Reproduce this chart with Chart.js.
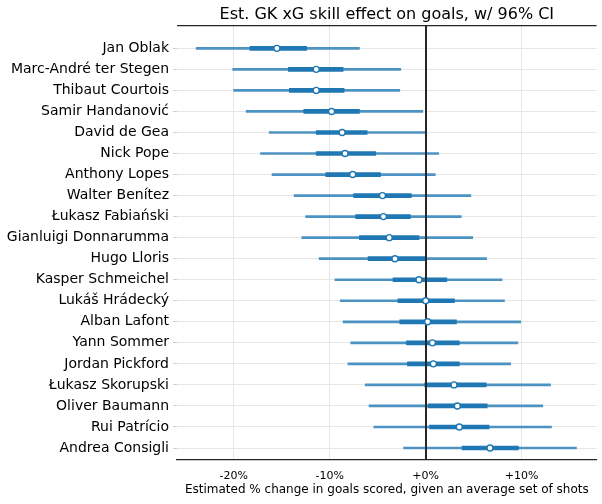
<!DOCTYPE html>
<html>
<head>
<meta charset="utf-8">
<script src="https://cdn.jsdelivr.net/npm/chart.js@4.4.0/dist/chart.umd.min.js"></script>
<style>
  body { margin: 0; background: #fff; }
  #wrap { width: 602px; height: 504px; }
</style>
</head>
<body>
<div id="wrap"><canvas id="gkChart" width="602" height="504"></canvas></div>
<script>
// goalkeepers, top to bottom
const keepers = [
  'Jan Oblak', 'Marc-André ter Stegen', 'Thibaut Courtois', 'Samir Handanović',
  'David de Gea', 'Nick Pope', 'Anthony Lopes', 'Walter Benítez',
  'Łukasz Fabiański', 'Gianluigi Donnarumma', 'Hugo Lloris', 'Kasper Schmeichel',
  'Lukáš Hrádecký', 'Alban Lafont', 'Yann Sommer', 'Jordan Pickford',
  'Łukasz Skorupski', 'Oliver Baumann', 'Rui Patrício', 'Andrea Consigli'
];
// % effect estimates
const estimate = [-15.5, -11.4, -11.4, -9.8, -8.7, -8.4, -7.6, -4.5, -4.4, -3.8,
                  -3.2, -0.7, 0.0, 0.2, 0.7, 0.8, 2.95, 3.3, 3.5, 6.7];
// 96% interval (thin line)
const ciLow = [-23.9, -20.1, -20.0, -18.7, -16.3, -17.2, -16.0, -13.7, -12.5, -12.9,
               -11.1, -9.45, -8.9, -8.6, -7.8, -8.1, -6.3, -5.9, -5.4, -2.3];
const ciHigh = [-6.9, -2.6, -2.7, -0.3, 0.0, 1.35, 1.0, 4.7, 3.7, 4.9,
                6.35, 7.95, 8.2, 9.9, 9.6, 8.85, 13.0, 12.2, 13.1, 15.7];
// inner interval (thick line)
const innerLow = [-18.3, -14.3, -14.2, -12.7, -11.4, -11.4, -10.4, -7.5, -7.3, -6.9,
                  -6.0, -3.4, -2.9, -2.7, -2.0, -1.9, -0.1, 0.24, 0.4, 3.8];
const innerHigh = [-12.4, -8.6, -8.5, -6.9, -6.1, -5.2, -4.7, -1.5, -1.6, -0.7,
                   -0.1, 2.2, 3.0, 3.2, 3.5, 3.5, 6.3, 6.4, 6.6, 9.65];
const xTicks = [-20, -10, 0, 10];

const FONT = "'DejaVu Sans', sans-serif";

// top spine + zero line (zero line goes under the points, over the bars)
const extraLines = {
  id: 'extraLines',
  beforeDatasetDraw(chart, args) {
    if (args.index !== 2) return;
    const { ctx, chartArea, scales } = chart;
    const x0 = Math.round(scales.x.getPixelForValue(0));
    ctx.save();
    ctx.strokeStyle = '#262626';
    ctx.lineWidth = 2;
    ctx.beginPath();
    ctx.moveTo(x0, chartArea.top);
    ctx.lineTo(x0, chartArea.bottom);
    ctx.stroke();
    ctx.restore();
  },
  afterDraw(chart) {
    const { ctx, chartArea } = chart;
    ctx.save();
    ctx.strokeStyle = '#262626';
    ctx.lineWidth = 1.2;
    ctx.beginPath();
    ctx.moveTo(chartArea.left, chartArea.top + 0.5);
    ctx.lineTo(chartArea.right, chartArea.top + 0.5);
    ctx.stroke();
    ctx.restore();
  }
};

const ctx = document.getElementById('gkChart').getContext('2d');
new Chart(ctx, {
  type: 'bar',
  data: {
    datasets: [
      {
        label: '96% CI',
        data: keepers.map((k, i) => ({ x: [ciLow[i], ciHigh[i]], y: i })),
        backgroundColor: '#4c92c3',
        barThickness: 2,
        grouped: false,
        order: 3,
      },
      {
        label: 'inner',
        data: keepers.map((k, i) => ({ x: [innerLow[i], innerHigh[i]], y: i })),
        backgroundColor: '#1f77b4',
        barThickness: 4,
        grouped: false,
        order: 2,
      },
      {
        type: 'scatter',
        label: 'estimate',
        data: keepers.map((k, i) => ({ x: estimate[i], y: i })),
        pointRadius: 3,
        pointBackgroundColor: '#ffffff',
        pointBorderColor: '#1f77b4',
        pointBorderWidth: 1.4,
        showLine: false,
        order: 1,
      }
    ]
  },
  options: {
    indexAxis: 'y',
    responsive: false,
    animation: false,
    devicePixelRatio: 1,
    layout: { padding: { left: 0, right: 5, top: 0, bottom: 3 } },
    plugins: {
      legend: { display: false },
      tooltip: { enabled: false },
      title: {
        display: true,
        fullSize: false,
        text: 'Est. GK xG skill effect on goals, w/ 96% CI',
        color: '#000',
        font: { family: FONT, size: 16, weight: 'normal' },
        padding: { top: 5, bottom: 1 },
      }
    },
    scales: {
      x: {
        type: 'linear',
        min: -25.9,
        max: 17.8,
        afterBuildTicks: scale => { scale.ticks = xTicks.map(v => ({ value: v })); },
        afterFit: scale => { scale.height = 41; },
        ticks: {
          color: '#000',
          padding: 10,
          font: { family: FONT, size: 11, lineHeight: 1.1 },
          callback: v => (v >= 0 ? '+' : '') + v + '%',
        },
        grid: { color: '#e6e6e6', drawTicks: false },
        border: { color: '#262626', width: 1.2 },
        title: {
          display: true,
          text: 'Estimated % change in goals scored, given an average set of shots',
          color: '#000',
          font: { family: FONT, size: 12, lineHeight: 1.1 },
          padding: { top: 0, bottom: 5 },
        }
      },
      y: {
        type: 'linear',
        reverse: true,
        offset: false,
        min: -1.1,
        max: 19.57,
        afterBuildTicks: scale => { scale.ticks = keepers.map((k, i) => ({ value: i })); },
        afterFit: scale => { scale.width = 177; },
        ticks: {
          color: '#000',
          padding: 4,
          font: { family: FONT, size: 14 },
          callback: v => keepers[v],
        },
        grid: { color: '#e6e6e6', tickColor: '#d0d0d0', tickLength: 4, offset: false },
        border: { display: false },
      }
    }
  },
  plugins: [extraLines]
});
</script>
</body>
</html>
